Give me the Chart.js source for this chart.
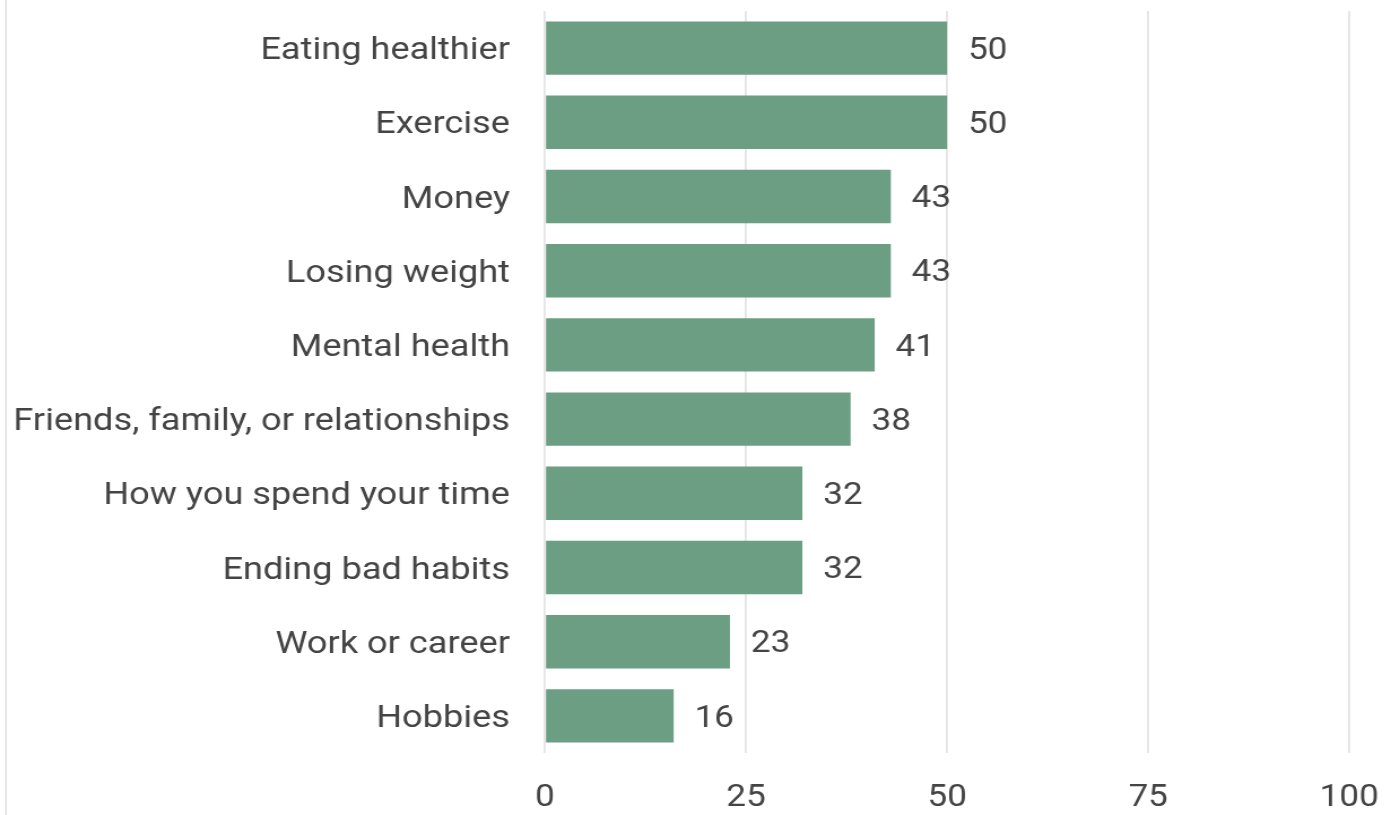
<!DOCTYPE html>
<html>
<head>
<meta charset="utf-8">
<script src="https://cdn.jsdelivr.net/npm/chart.js@4"></script>
<style>
  html, body { margin: 0; padding: 0; background: #fff; }
  #wrap { position: relative; width: 1383px; height: 815px; overflow: hidden; }
  #edge { position: absolute; left: 5px; top: 0; width: 2px; height: 815px; background: #e6e6e6; }
  /* the reference text is a bit wide, so the canvas is stretched sideways */
  #chart { position: absolute; left: 0; top: 0; transform: scaleX(1.13); transform-origin: 0 0; }
</style>
</head>
<body>
<div id="wrap">
  <div id="edge"></div>
  <canvas id="chart" width="1234" height="815" style="width:1234px;height:815px;"></canvas>
</div>
<script>
const categories = [
  "Eating healthier",
  "Exercise",
  "Money",
  "Losing weight",
  "Mental health",
  "Friends, family, or relationships",
  "How you spend your time",
  "Ending bad habits",
  "Work or career",
  "Hobbies",
];
const values = [50, 50, 43, 43, 41, 38, 32, 32, 23, 16];
const xTickValues = [0, 25, 50, 75, 100];
const xTickLabels = ["0", "25", "50", "75", "100"];

const textColor = "#444444";
const barColor = "#6b9e82";

// draws the number just right of each bar
const valueLabels = {
  id: "valueLabels",
  afterDatasetsDraw(chart) {
    const ctx = chart.ctx;
    const meta = chart.getDatasetMeta(0);
    ctx.save();
    ctx.font = "31px Roboto";
    ctx.fillStyle = textColor;
    ctx.textAlign = "left";
    ctx.textBaseline = "middle";
    meta.data.forEach((bar, i) => {
      ctx.fillText(String(values[i]), bar.x + 18.5, bar.y + 3);
    });
    ctx.restore();
  },
};

new Chart(document.getElementById("chart").getContext("2d"), {
  type: "bar",
  data: {
    labels: categories,
    datasets: [
      {
        data: values,
        backgroundColor: barColor,
        borderWidth: 0,
        barPercentage: 0.72,
        categoryPercentage: 1,
      },
    ],
  },
  options: {
    indexAxis: "y",
    responsive: false,
    animation: false,
    layout: { padding: { top: 11, right: 40, left: 0, bottom: 0 } },
    plugins: {
      legend: { display: false },
      tooltip: { enabled: false },
    },
    scales: {
      x: {
        min: 0,
        max: 100,
        afterBuildTicks: (scale) => {
          scale.ticks = xTickValues.map((v) => ({ value: v }));
        },
        afterFit: (scale) => {
          scale.height = 62;
          scale.paddingLeft = 0;
          scale.paddingRight = 0;
        },
        grid: { color: "#e4e4e4", lineWidth: 1.8, drawTicks: false },
        border: { display: false },
        ticks: {
          padding: 27,
          color: textColor,
          font: { family: "Roboto", size: 31 },
          maxRotation: 0,
          callback: (v, i) => xTickLabels[i],
        },
      },
      y: {
        afterFit: (scale) => {
          scale.width = 482.3;
          scale.paddingTop = 0;
          scale.paddingBottom = 0;
        },
        grid: { display: false, drawTicks: false },
        border: { display: false },
        ticks: {
          padding: 31,
          labelOffset: 3,
          color: textColor,
          font: { family: "Roboto", size: 32 },
        },
      },
    },
  },
  plugins: [valueLabels],
});
</script>
</body>
</html>
